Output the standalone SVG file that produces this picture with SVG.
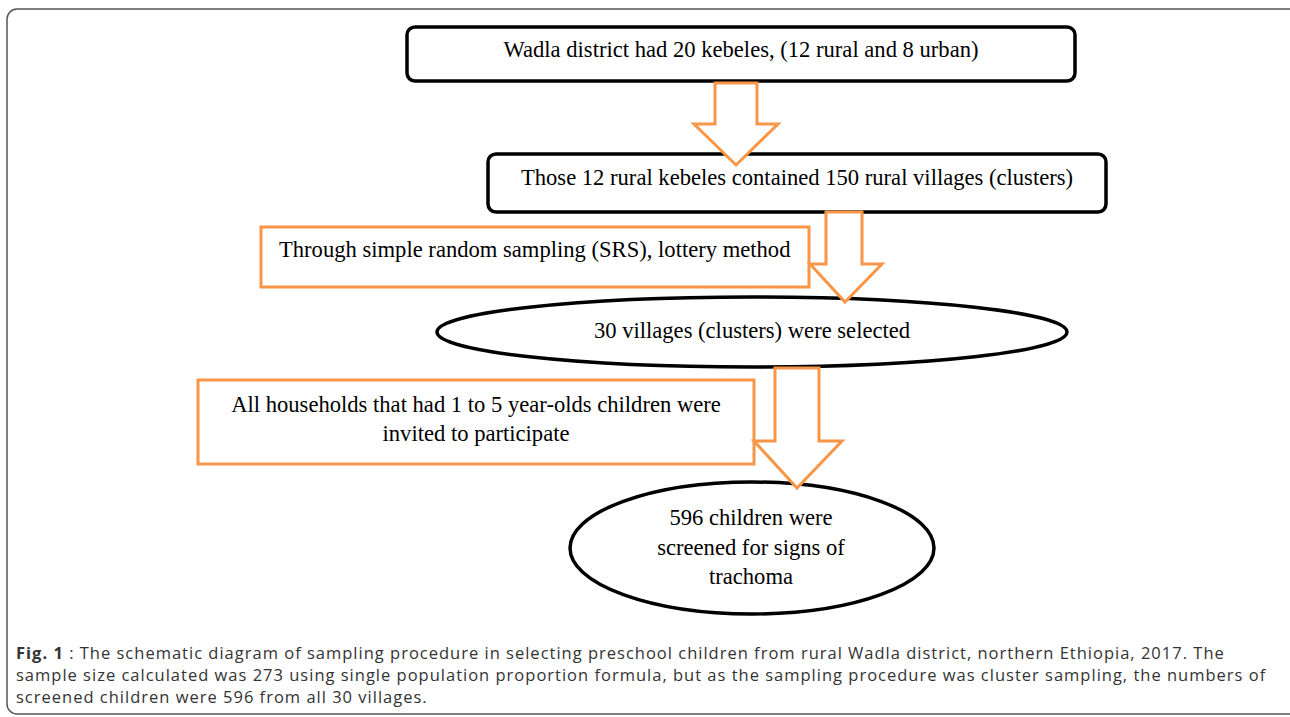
<svg xmlns="http://www.w3.org/2000/svg" width="1290" height="717" viewBox="0 0 1290 717">
<style>
.frame{fill:#fff;stroke:#555;stroke-width:1.5}
.blk{fill:#fff;stroke:#000;stroke-width:3.5}
.org{fill:#fff;stroke:#F79646;stroke-width:3}
.arr{fill:#fff;stroke:#F79646;stroke-width:3;stroke-linejoin:miter}
.t{font-family:"Liberation Serif","Times New Roman",serif;font-size:22.6px;fill:#000}
.c{text-anchor:middle}
.cap{font-family:"Open Sans","Noto Sans",sans-serif;font-size:16.5px;letter-spacing:1px;fill:#333}
</style>
<rect class="frame" x="7" y="9" width="1300" height="705" rx="10"/>
<g id="n1">
<rect class="blk" x="407" y="27" width="668" height="54" rx="8"/>
<text class="t c" x="741" y="57">Wadla district had 20 kebeles, (12 rural and 8 urban)</text>
</g>
<g id="n2">
<rect class="blk" x="488" y="154" width="618" height="58" rx="8"/>
<text class="t c" x="797" y="185">Those 12 rural kebeles contained 150 rural villages (clusters)</text>
</g>
<g id="n3">
<rect class="org" x="261" y="227" width="548" height="60"/>
<text class="t" x="279" y="257">Through simple random sampling (SRS), lottery method</text>
</g>
<g id="n4">
<ellipse class="blk" cx="752" cy="332" rx="315" ry="35"/>
<text class="t c" x="752" y="338">30 villages (clusters) were selected</text>
</g>
<g id="n5">
<rect class="org" x="198" y="380" width="556" height="84"/>
<text class="t c" x="476" y="412">All households that had 1 to 5 year-olds children were</text>
<text class="t c" x="476" y="441">invited to participate</text>
</g>
<g id="n6">
<ellipse class="blk" cx="752" cy="548" rx="182" ry="66"/>
<text class="t c" x="751" y="525">596 children were</text>
<text class="t c" x="751" y="555">screened for signs of</text>
<text class="t c" x="751" y="584">trachoma</text>
</g>
<g id="connectors">
<polygon class="arr" points="715,83 757,83 757,124 778,124 736,165 694,124 715,124"/>
<polygon class="arr" points="826,212 862,212 862,264 882,264 845,302 810,264 826,264"/>
<polygon class="arr" points="775,368 819,368 819,441 842,441 797,488 754,441 775,441"/>
</g>
<g id="caption">
<text class="cap" x="16" y="659"><tspan font-weight="bold">Fig. 1</tspan> : The schematic diagram of sampling procedure in selecting preschool children from rural Wadla district, northern Ethiopia, 2017. The</text>
<text class="cap" x="16" y="681">sample size calculated was 273 using single population proportion formula, but as the sampling procedure was cluster sampling, the numbers of</text>
<text class="cap" x="16" y="703">screened children were 596 from all 30 villages.</text>
</g>
</svg>
